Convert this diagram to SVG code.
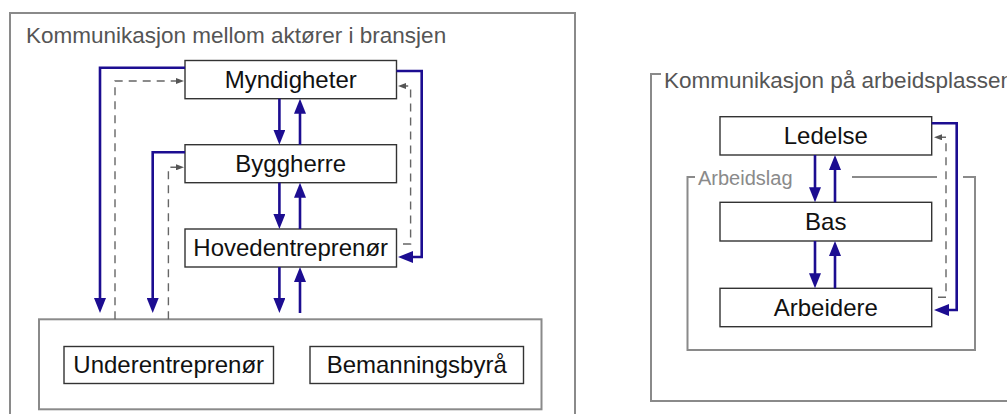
<svg xmlns="http://www.w3.org/2000/svg" width="1007" height="414" viewBox="0 0 1007 414">
  <style>
    .frame { fill: none; stroke: #8a8a8a; stroke-width: 2; }
    .box { fill: #fff; stroke: #333; stroke-width: 1.4; }
    .label { font-family: "Liberation Sans", Arial, sans-serif; font-size: 24px; fill: #111; text-anchor: middle; }
    .title { font-family: "Liberation Sans", Arial, sans-serif; font-size: 22.5px; fill: #555; }
    .sub { font-family: "Liberation Sans", Arial, sans-serif; font-size: 20px; fill: #8a8a8a; }
    .flow { fill: none; stroke: #1c0d91; stroke-width: 2.6; marker-end: url(#ah); }
    .info { fill: none; stroke: #666; stroke-width: 1.4; stroke-dasharray: 8 6; marker-end: url(#ahs); }
  </style>
  <defs>
    <marker id="ah" viewBox="0 0 15 12" refX="1" refY="6" markerWidth="15" markerHeight="12" markerUnits="userSpaceOnUse" orient="auto">
      <path d="M0,0 L15,6 L0,12 z" fill="#1c0d91"/>
    </marker>
    <marker id="ahs" viewBox="0 0 8 6" refX="1" refY="3" markerWidth="8" markerHeight="6" markerUnits="userSpaceOnUse" orient="auto">
      <path d="M0,0 L8,3 L0,6 z" fill="#555"/>
    </marker>
  </defs>

  <rect width="1007" height="414" fill="#fff"/>

  <!-- Industry-level communication panel (open at the bottom) -->
  <g id="panel-bransjen">
    <path class="frame" d="M10,420 V13 H575 V420"/>
    <text class="title" x="26" y="43">Kommunikasjon mellom aktører i bransjen</text>
  </g>

  <!-- Workplace communication panel (runs off to the right) -->
  <g id="panel-arbeidsplassen">
    <path class="frame" d="M661,74 H651 V401 H1012"/>
    <text class="title" x="664" y="88">Kommunikasjon på arbeidsplassen</text>
  </g>

  <!-- Work team frame -->
  <g id="arbeidslag">
    <path class="frame" d="M695,177 H687.5 V350 H975 V177 H963 M937,177 H852"/>
    <text class="sub" x="698" y="185">Arbeidslag</text>
  </g>

  <g id="myndigheter">
    <rect class="box" x="185" y="60.5" width="211.5" height="38.2"/>
    <text class="label" x="290.7" y="87.5">Myndigheter</text>
  </g>
  <g id="byggherre">
    <rect class="box" x="185" y="144.7" width="211.5" height="38"/>
    <text class="label" x="290.7" y="171.5">Byggherre</text>
  </g>
  <g id="hovedentreprenor">
    <rect class="box" x="185" y="229" width="211.5" height="38"/>
    <text class="label" x="290.7" y="256">Hovedentreprenør</text>
  </g>
  <g id="underleverandorer">
    <rect class="frame" x="39" y="319.3" width="502.5" height="90"/>
    <g id="underentreprenor">
      <rect class="box" x="64" y="346.5" width="209.5" height="37"/>
      <text class="label" x="168.7" y="373">Underentreprenør</text>
    </g>
    <g id="bemanningsbyra">
      <rect class="box" x="310" y="346.5" width="213.5" height="37"/>
      <text class="label" x="416.7" y="373">Bemanningsbyrå</text>
    </g>
  </g>

  <g id="ledelse">
    <rect class="box" x="720" y="116.7" width="211.7" height="38.3"/>
    <text class="label" x="825.8" y="143.5">Ledelse</text>
  </g>
  <g id="bas">
    <rect class="box" x="720" y="202.3" width="211.7" height="38.7"/>
    <text class="label" x="825.8" y="229.5">Bas</text>
  </g>
  <g id="arbeidere">
    <rect class="box" x="720" y="288.3" width="211.7" height="38.4"/>
    <text class="label" x="825.8" y="315.5">Arbeidere</text>
  </g>

  <g id="connectors">
    <!-- vertical chain, left panel -->
    <path class="flow" d="M279.4,98.7 V130.7"/>
    <path class="flow" d="M300,144.7 V112.7"/>
    <path class="flow" d="M279.4,182.7 V215"/>
    <path class="flow" d="M300,229 V196.7"/>
    <path class="flow" d="M279.4,267 V299"/>
    <path class="flow" d="M300,313 V281"/>
    <!-- bypass routes -->
    <path class="flow" d="M185,67.7 H100 V299"/>
    <path class="flow" d="M185,152.3 H152.7 V299"/>
    <path class="flow" d="M396.5,71 H421.7 V257 H412"/>
    <path class="info" d="M115,319.3 V81 H177"/>
    <path class="info" d="M168.4,319.3 V167.3 H177"/>
    <path class="info" d="M403,244 H410.6 V86 H405"/>
    <!-- right panel -->
    <path class="flow" d="M815,155 V188.3"/>
    <path class="flow" d="M835,202.3 V169"/>
    <path class="flow" d="M815,241 V274.3"/>
    <path class="flow" d="M835,288.3 V255"/>
    <path class="flow" d="M931.7,123.3 H956.7 V310 H948"/>
    <path class="info" d="M938,297.3 H946 V137.3 H941"/>
  </g>
</svg>
